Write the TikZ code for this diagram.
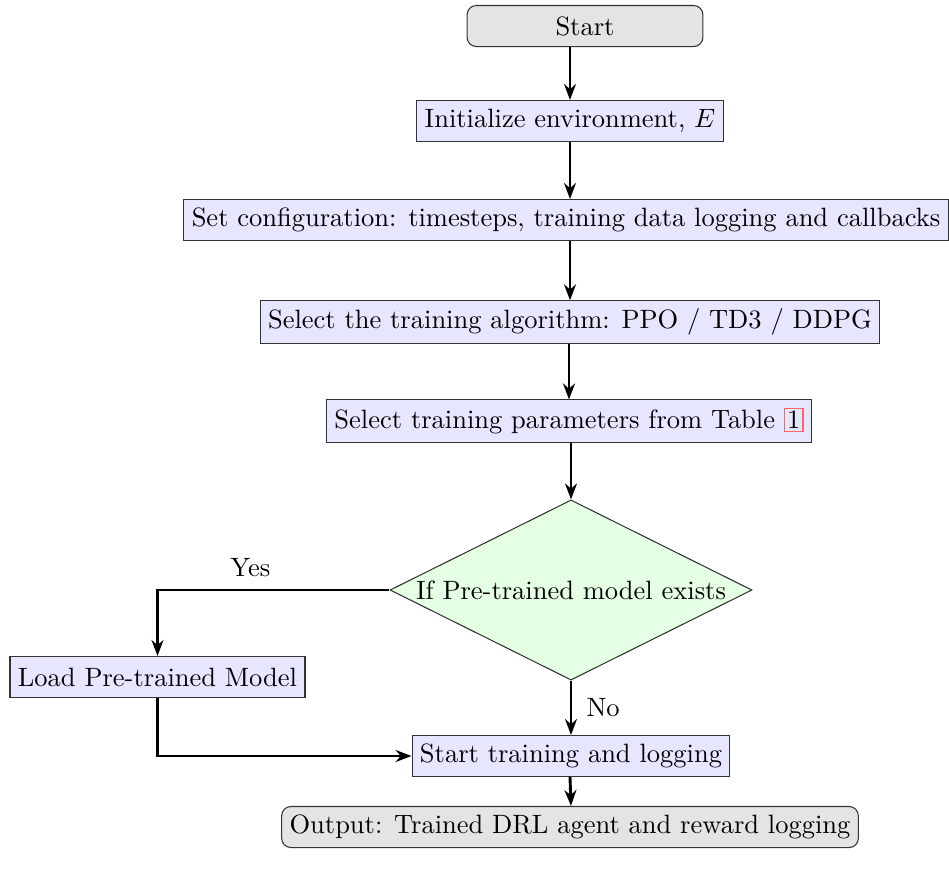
\documentclass[tikz,border=0pt]{standalone}
\usetikzlibrary{shapes.geometric,arrows.meta}
\definecolor{boxblue}{RGB}{230,230,255}
\definecolor{boxgray}{RGB}{228,228,228}
\definecolor{boxgreen}{RGB}{228,255,228}
\begin{document}
\begin{tikzpicture}[x=0.3774pt,y=-0.3774pt,
  procbox/.style={draw=black!80,fill=boxblue,rectangle,line width=0.4pt,minimum height=15.5pt,inner sep=3pt},
  termbox/.style={draw=black!80,fill=boxgray,rectangle,rounded corners=3.5pt,line width=0.4pt,minimum height=15.5pt,inner sep=3pt},
  decbox/.style={draw=black!80,fill=boxgreen,diamond,aspect=2.0,inner sep=0pt,line width=0.4pt,minimum width=136.6pt,minimum height=68pt},
  flow/.style={line width=1.1pt,-{Stealth[length=6pt,width=4.5pt]}}]
\useasboundingbox (0,0) rectangle (949,878);
\node[termbox,minimum width=89pt] (start) at (585,26) {Start};
\node[procbox] (init) at (570,121) {Initialize environment, $E$};
\node[procbox] (conf) at (566,220) {Set configuration: timesteps, training data logging and callbacks};
\node[procbox] (algo) at (570,322) {Select the training algorithm: PPO / TD3 / DDPG};
\node[procbox] (par) at (569,421) {Select training parameters from Table {\setlength\fboxsep{0.8pt}\setlength\fboxrule{0.4pt}\fcolorbox{red!60}{boxblue}{1}}};
\node[decbox] (dec) at (571,590) {If Pre-trained model exists};
\node[procbox] (load) at (157.5,677) {Load Pre-trained Model};
\node[procbox] (train) at (571,756) {Start training and logging};
\node[termbox] (out) at (570,827) {Output: Trained DRL agent and reward logging};
\draw[flow] (start.south -| init.north) -- (init.north);
\draw[flow] (init.south) -- (init.south |- conf.north);
\draw[flow] (conf.south -| algo.north) -- (algo);
\draw[flow] (algo.south -| par.north) -- (par);
\draw[flow] (par.south -| dec.north) -- (dec.north);
\draw[flow] (dec.west) -| node[pos=0.3,above=1pt] {Yes} (load.north);
\draw[flow] (dec.south) -- node[right=2pt] {No} (dec.south |- train.north);
\draw[flow] (load.south) |- (train.west);
\draw[flow] (train.south -| out.north) -- (out.north -| train.south);
\end{tikzpicture}
\end{document}
